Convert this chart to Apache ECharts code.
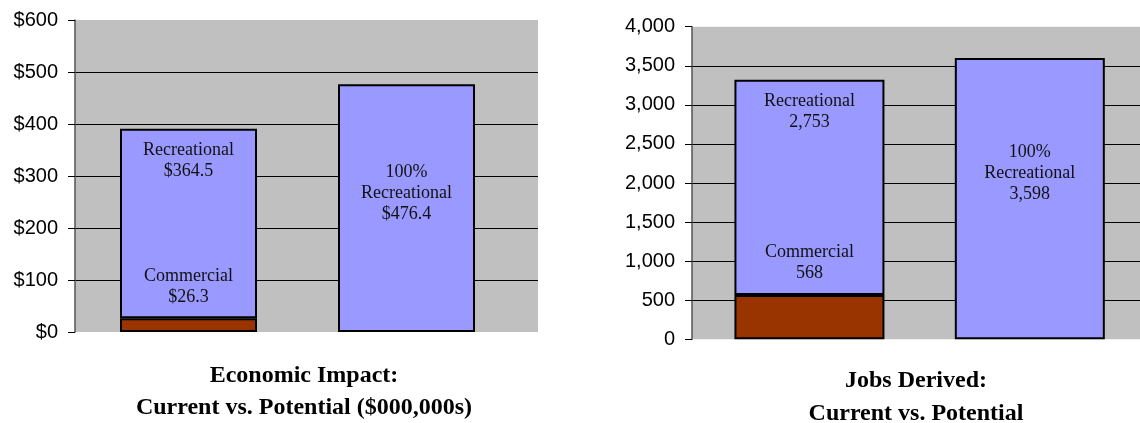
<!DOCTYPE html>
<html>
<head>
<meta charset="utf-8">
<script src="https://cdn.jsdelivr.net/npm/echarts@6/dist/echarts.min.js"></script>
<style>
  html, body { margin: 0; padding: 0; background: #fff; }
  #chart { width: 1140px; height: 423px; }
</style>
</head>
<body>
<div id="chart"></div>
<script>
// Categories shared by both panels
const categories = ['Current', 'Potential'];

// Economic impact ($000,000s)
const econCommercial = [26.3, null];
const econRecreational = [364.5, 476.4];
const econTicks = [0, 100, 200, 300, 400, 500, 600];

// Jobs derived
const jobsCommercial = [568, null];
const jobsRecreational = [2753, 3598];
const jobsTicks = [0, 500, 1000, 1500, 2000, 2500, 3000, 3500, 4000];

// Panel titles
const econTitle = 'Economic Impact:\nCurrent vs. Potential ($000,000s)';
const jobsTitle = 'Jobs Derived:\nCurrent vs. Potential';

const PLOT_BG = '#C0C0C0';
const REC_COLOR = '#9999FF';
const COM_COLOR = '#993300';
const SERIF = '"Liberation Serif", "Times New Roman", serif';
const SANS = '"Liberation Sans", Arial, sans-serif';

const fmtMoney = v => '$' + v.toFixed(1);
const fmtMoneyAxis = v => '$' + v;
const fmtCount = v => Number(v).toLocaleString('en-US');

const barLabelBase = {
  show: true,
  color: '#111',
  fontFamily: SERIF,
  fontSize: 18,
  lineHeight: 21,
  align: 'center'
};

// Background axis (grey plot area, gridlines, ticks) for a panel
function backgroundAxis(gridIndex, ticks, formatter) {
  return {
    type: 'value',
    gridIndex: gridIndex,
    min: ticks[0],
    max: ticks[ticks.length - 1],
    interval: ticks[1] - ticks[0],
    axisLine: { show: true, lineStyle: { color: '#555', width: 1.5 } },
    axisTick: { show: true, length: 7, lineStyle: { color: '#000', width: 1 } },
    axisLabel: { color: '#000', fontFamily: SANS, fontSize: 20, margin: 17, formatter: formatter },
    splitLine: { show: true, showMinLine: false, showMaxLine: false, lineStyle: { color: '#000', width: 1 } }
  };
}

function hiddenAxis(gridIndex, ticks) {
  return {
    type: 'value',
    gridIndex: gridIndex,
    min: ticks[0],
    max: ticks[ticks.length - 1],
    show: false,
    splitLine: { show: false }
  };
}

function catAxis(gridIndex) {
  return { type: 'category', gridIndex: gridIndex, data: categories, show: false };
}

// Build the stacked bar series for one panel
function panelSeries(axisIndex, commercial, recreational, fmt, barWidth, potentialDist, stackKey) {
  const commercialData = commercial.map(v => (v == null ? '-' : v));
  const recreationalData = recreational.map((v, i) => {
    if (i === 0) {
      return {
        value: v,
        label: Object.assign({}, barLabelBase, {
          position: 'insideTop', distance: 11,
          formatter: p => 'Recreational\n' + fmt(p.value)
        })
      };
    }
    return {
      value: v,
      label: Object.assign({}, barLabelBase, {
        position: 'insideTop', distance: potentialDist,
        formatter: p => '100%\nRecreational\n' + fmt(p.value)
      })
    };
  });
  return [
    {
      name: 'Commercial',
      type: 'bar',
      xAxisIndex: axisIndex,
      yAxisIndex: axisIndex,
      stack: stackKey,
      barWidth: barWidth,
      data: commercialData,
      itemStyle: { color: COM_COLOR, borderColor: '#000', borderWidth: 2 },
      label: Object.assign({}, barLabelBase, {
        position: 'top', distance: 11,
        formatter: p => 'Commercial\n' + fmt(p.value)
      }),
      z: 3
    },
    {
      name: 'Recreational',
      type: 'bar',
      xAxisIndex: axisIndex,
      yAxisIndex: axisIndex,
      stack: stackKey,
      barWidth: barWidth,
      data: recreationalData,
      itemStyle: { color: REC_COLOR, borderColor: '#000', borderWidth: 2 },
      z: 2
    }
  ];
}

const chart = echarts.init(document.getElementById('chart'), null, { renderer: 'canvas' });

chart.setOption({
  animation: false,
  backgroundColor: '#fff',
  grid: [
    // economic panel: plot frame, then bar band
    { left: 75, top: 20, width: 463, height: 312, show: true, backgroundColor: PLOT_BG, borderWidth: 0 },
    { left: 79.5, top: 20, width: 436, height: 312 },
    // jobs panel: plot frame, then bar band
    { left: 692, top: 26.7, width: 448, height: 312.6, show: true, backgroundColor: PLOT_BG, borderWidth: 0 },
    { left: 699.25, top: 26.7, width: 445, height: 312.6 }
  ],
  xAxis: [catAxis(0), catAxis(1), catAxis(2), catAxis(3)],
  yAxis: [
    backgroundAxis(0, econTicks, fmtMoneyAxis),
    hiddenAxis(1, econTicks),
    backgroundAxis(2, jobsTicks, fmtCount),
    hiddenAxis(3, jobsTicks)
  ],
  series: [
    ...panelSeries(1, econCommercial, econRecreational, fmtMoney, 137, 77, 'econ'),
    ...panelSeries(3, jobsCommercial, jobsRecreational, fmtCount, 150, 84, 'jobs')
  ],
  graphic: [
    {
      type: 'text', x: 304, y: 360,
      style: { text: econTitle, fill: '#000', font: 'bold 24px ' + SERIF, align: 'center', verticalAlign: 'top', lineHeight: 32 }
    },
    {
      type: 'text', x: 916, y: 364,
      style: { text: jobsTitle, fill: '#000', font: 'bold 24px ' + SERIF, align: 'center', verticalAlign: 'top', lineHeight: 33 }
    }
  ]
});
</script>
</body>
</html>
